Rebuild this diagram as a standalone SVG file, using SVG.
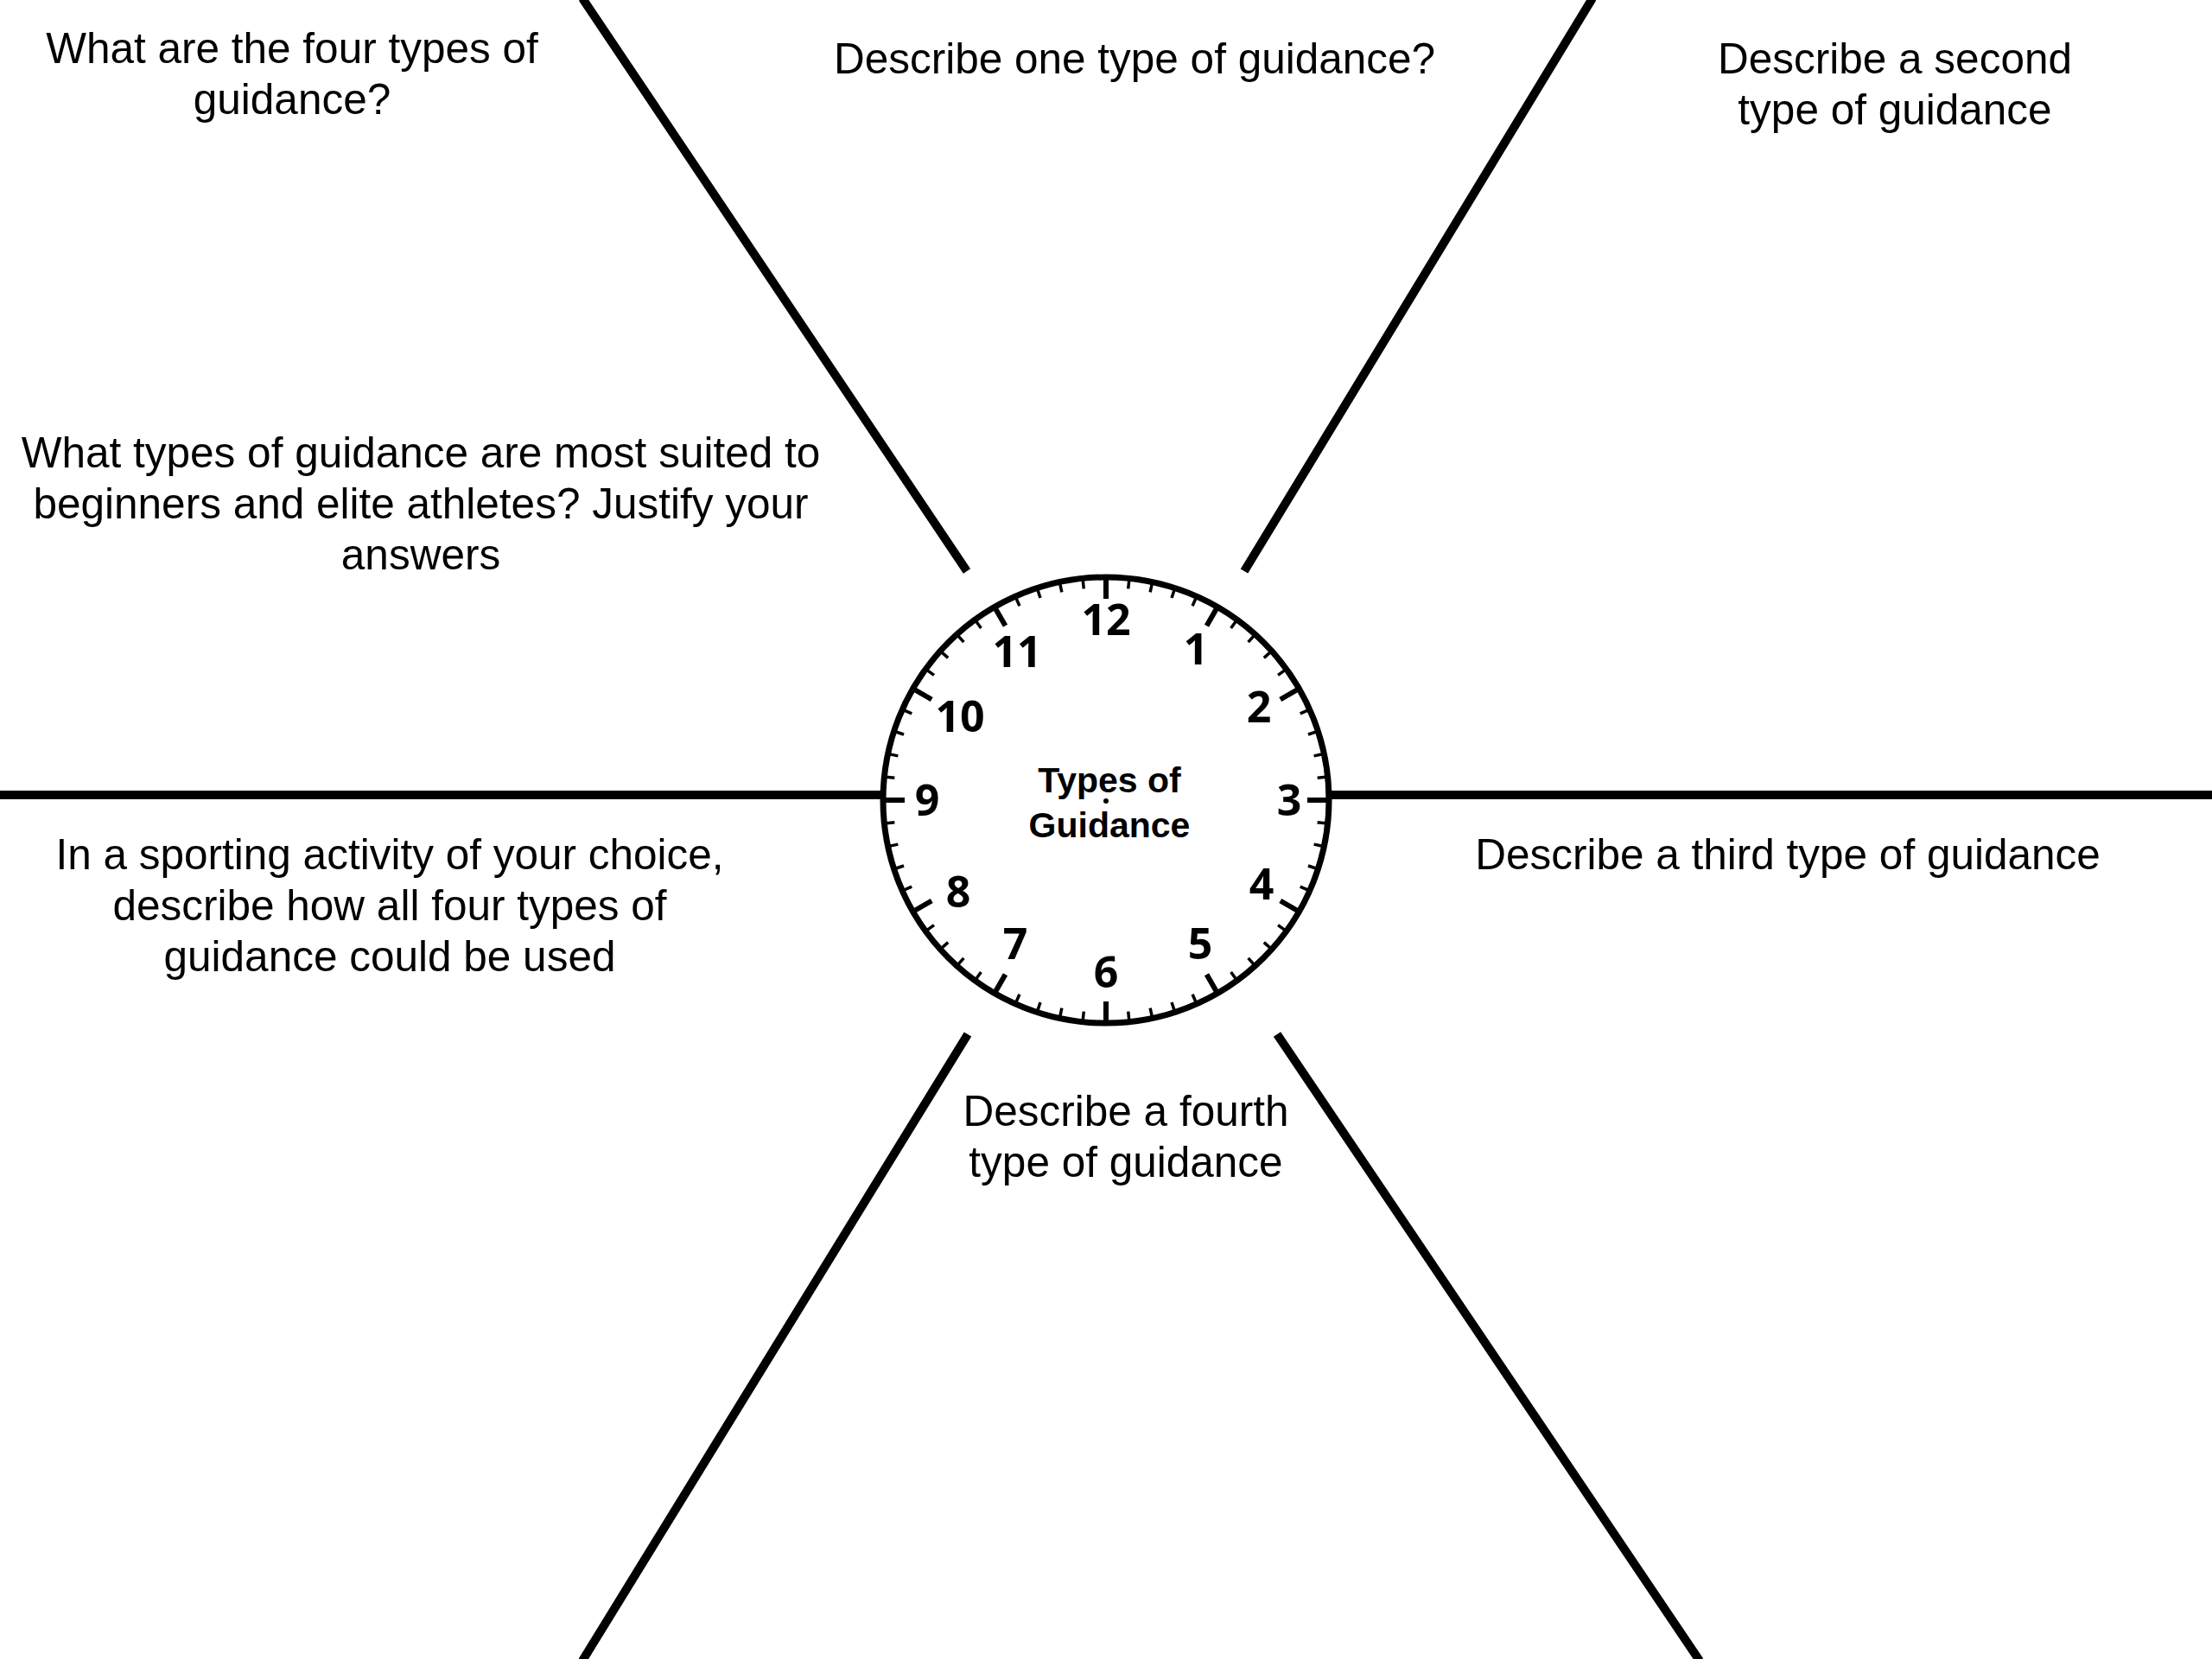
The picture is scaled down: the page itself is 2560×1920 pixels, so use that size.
<svg xmlns="http://www.w3.org/2000/svg" xmlns:xlink="http://www.w3.org/1999/xlink" width="2560" height="1920" viewBox="0 0 2560 1920">
<style>
.q{font-family:"Liberation Sans",Arial,sans-serif;font-size:49.5px;fill:#000;text-anchor:middle}
.num{font-family:"Open Sans","Liberation Sans",sans-serif;font-weight:bold;font-size:50px;fill:#000;text-anchor:middle}
.ctr{font-family:"Liberation Sans",Arial,sans-serif;font-weight:bold;font-size:41px;fill:#000;text-anchor:middle}
.ln{stroke:#000;stroke-width:10;fill:none}
.mt{stroke:#000;stroke-width:3.5}
.ht{stroke:#000;stroke-width:6}
</style>
<defs>
<line id="minor" class="mt" x1="1280" y1="668" x2="1280" y2="680"/>
<line id="hour" class="ht" x1="1280" y1="668" x2="1280" y2="693"/>
</defs>
<rect width="2560" height="1920" fill="#fff"/>
<g id="connectors">
<line class="ln" x1="0" y1="920" x2="1022" y2="920"/>
<line class="ln" x1="1538" y1="920" x2="2560" y2="920"/>
<line class="ln" x1="674" y1="-2" x2="1119" y2="661"/>
<line class="ln" x1="1843" y1="-2" x2="1440" y2="661"/>
<line class="ln" x1="1120" y1="1197" x2="674" y2="1922"/>
<line class="ln" x1="1478" y1="1197" x2="1967" y2="1922"/>
</g>
<g id="clock">
<circle cx="1280" cy="926" r="258" fill="#fff" stroke="#000" stroke-width="7"/>
<g id="ticks">
<use xlink:href="#hour" transform="rotate(0 1280 926)"/>
<use xlink:href="#minor" transform="rotate(6 1280 926)"/>
<use xlink:href="#minor" transform="rotate(12 1280 926)"/>
<use xlink:href="#minor" transform="rotate(18 1280 926)"/>
<use xlink:href="#minor" transform="rotate(24 1280 926)"/>
<use xlink:href="#hour" transform="rotate(30 1280 926)"/>
<use xlink:href="#minor" transform="rotate(36 1280 926)"/>
<use xlink:href="#minor" transform="rotate(42 1280 926)"/>
<use xlink:href="#minor" transform="rotate(48 1280 926)"/>
<use xlink:href="#minor" transform="rotate(54 1280 926)"/>
<use xlink:href="#hour" transform="rotate(60 1280 926)"/>
<use xlink:href="#minor" transform="rotate(66 1280 926)"/>
<use xlink:href="#minor" transform="rotate(72 1280 926)"/>
<use xlink:href="#minor" transform="rotate(78 1280 926)"/>
<use xlink:href="#minor" transform="rotate(84 1280 926)"/>
<use xlink:href="#hour" transform="rotate(90 1280 926)"/>
<use xlink:href="#minor" transform="rotate(96 1280 926)"/>
<use xlink:href="#minor" transform="rotate(102 1280 926)"/>
<use xlink:href="#minor" transform="rotate(108 1280 926)"/>
<use xlink:href="#minor" transform="rotate(114 1280 926)"/>
<use xlink:href="#hour" transform="rotate(120 1280 926)"/>
<use xlink:href="#minor" transform="rotate(126 1280 926)"/>
<use xlink:href="#minor" transform="rotate(132 1280 926)"/>
<use xlink:href="#minor" transform="rotate(138 1280 926)"/>
<use xlink:href="#minor" transform="rotate(144 1280 926)"/>
<use xlink:href="#hour" transform="rotate(150 1280 926)"/>
<use xlink:href="#minor" transform="rotate(156 1280 926)"/>
<use xlink:href="#minor" transform="rotate(162 1280 926)"/>
<use xlink:href="#minor" transform="rotate(168 1280 926)"/>
<use xlink:href="#minor" transform="rotate(174 1280 926)"/>
<use xlink:href="#hour" transform="rotate(180 1280 926)"/>
<use xlink:href="#minor" transform="rotate(186 1280 926)"/>
<use xlink:href="#minor" transform="rotate(192 1280 926)"/>
<use xlink:href="#minor" transform="rotate(198 1280 926)"/>
<use xlink:href="#minor" transform="rotate(204 1280 926)"/>
<use xlink:href="#hour" transform="rotate(210 1280 926)"/>
<use xlink:href="#minor" transform="rotate(216 1280 926)"/>
<use xlink:href="#minor" transform="rotate(222 1280 926)"/>
<use xlink:href="#minor" transform="rotate(228 1280 926)"/>
<use xlink:href="#minor" transform="rotate(234 1280 926)"/>
<use xlink:href="#hour" transform="rotate(240 1280 926)"/>
<use xlink:href="#minor" transform="rotate(246 1280 926)"/>
<use xlink:href="#minor" transform="rotate(252 1280 926)"/>
<use xlink:href="#minor" transform="rotate(258 1280 926)"/>
<use xlink:href="#minor" transform="rotate(264 1280 926)"/>
<use xlink:href="#hour" transform="rotate(270 1280 926)"/>
<use xlink:href="#minor" transform="rotate(276 1280 926)"/>
<use xlink:href="#minor" transform="rotate(282 1280 926)"/>
<use xlink:href="#minor" transform="rotate(288 1280 926)"/>
<use xlink:href="#minor" transform="rotate(294 1280 926)"/>
<use xlink:href="#hour" transform="rotate(300 1280 926)"/>
<use xlink:href="#minor" transform="rotate(306 1280 926)"/>
<use xlink:href="#minor" transform="rotate(312 1280 926)"/>
<use xlink:href="#minor" transform="rotate(318 1280 926)"/>
<use xlink:href="#minor" transform="rotate(324 1280 926)"/>
<use xlink:href="#hour" transform="rotate(330 1280 926)"/>
<use xlink:href="#minor" transform="rotate(336 1280 926)"/>
<use xlink:href="#minor" transform="rotate(342 1280 926)"/>
<use xlink:href="#minor" transform="rotate(348 1280 926)"/>
<use xlink:href="#minor" transform="rotate(354 1280 926)"/>
</g>
<g id="numbers">
<text class="num" x="1280" y="735">12</text>
<text class="num" x="1384" y="769">1</text>
<text class="num" x="1457" y="836">2</text>
<text class="num" x="1492" y="944">3</text>
<text class="num" x="1460" y="1041">4</text>
<text class="num" x="1389" y="1110">5</text>
<text class="num" x="1280" y="1143">6</text>
<text class="num" x="1175" y="1110">7</text>
<text class="num" x="1109" y="1050">8</text>
<text class="num" x="1073" y="944">9</text>
<text class="num" x="1111" y="847">10</text>
<text class="num" x="1177" y="772">11</text>
</g>
<circle cx="1280" cy="927" r="3" fill="#000"/>
<text class="ctr" x="1284" y="917">Types of</text>
<text class="ctr" x="1284" y="969">Guidance</text>
</g>
<g id="q1"><text class="q" x="338" y="73">What are the four types of</text><text class="q" x="338" y="132">guidance?</text></g>
<g id="q2"><text class="q" x="1313" y="85">Describe one type of guidance?</text></g>
<g id="q3"><text class="q" x="2193" y="85">Describe a second</text><text class="q" x="2193" y="144">type of guidance</text></g>
<g id="q4"><text class="q" x="487" y="541">What types of guidance are most suited to</text><text class="q" x="487" y="600">beginners and elite athletes? Justify your</text><text class="q" x="487" y="659">answers</text></g>
<g id="q5"><text class="q" x="451" y="1006">In a sporting activity of your choice,</text><text class="q" x="451" y="1065">describe how all four types of</text><text class="q" x="451" y="1124">guidance could be used</text></g>
<g id="q6"><text class="q" x="2069" y="1006">Describe a third type of guidance</text></g>
<g id="q7"><text class="q" x="1303" y="1303">Describe a fourth</text><text class="q" x="1303" y="1362">type of guidance</text></g>
</svg>
